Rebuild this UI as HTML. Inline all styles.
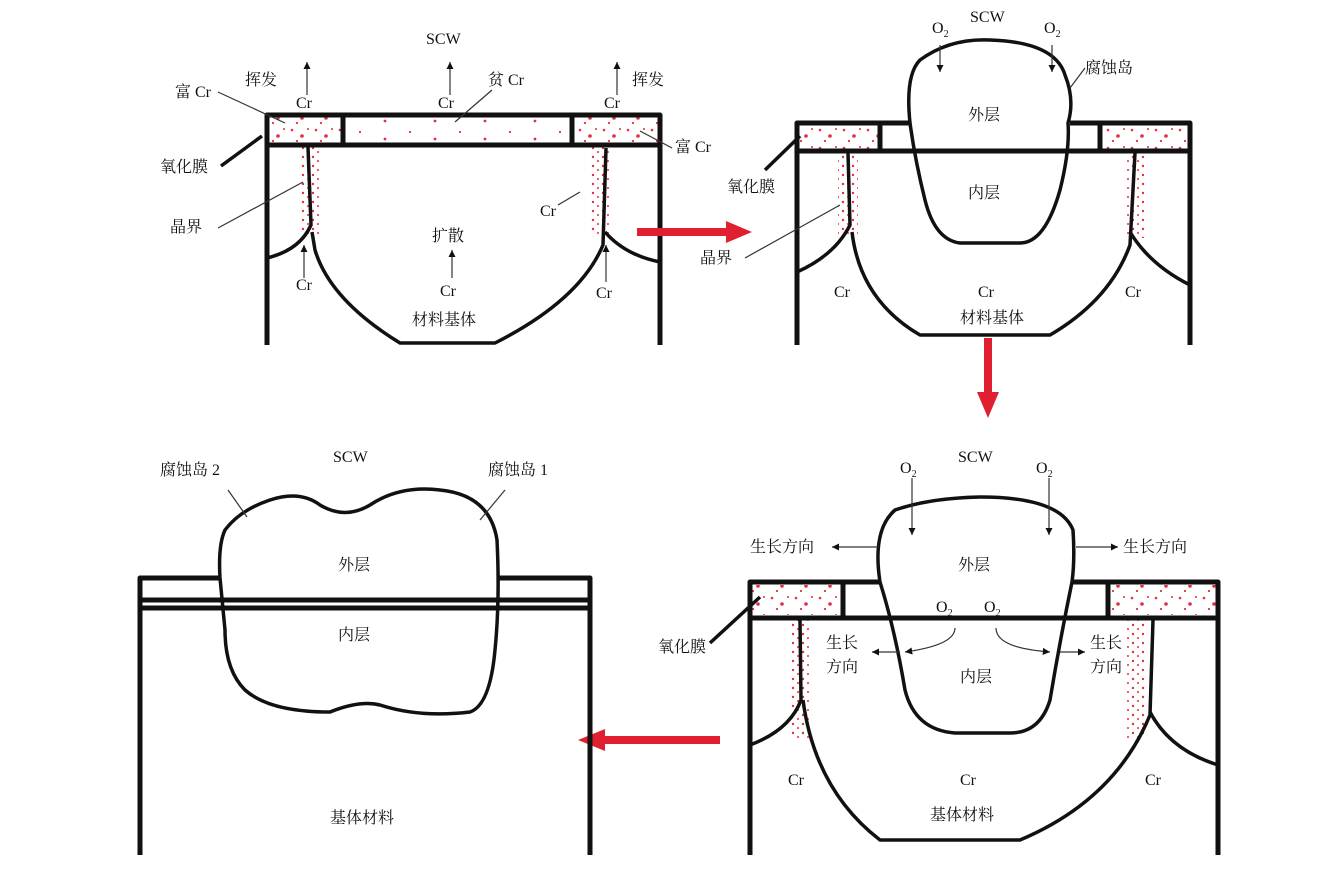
<!DOCTYPE html>
<html><head><meta charset="utf-8"><style>
body{margin:0;background:#fff}
svg{display:block}
text{font-family:"Liberation Serif","Noto Serif CJK SC","Noto Sans CJK SC",serif;font-size:16px;fill:#111}
.b{fill:none;stroke:#111;stroke-width:5;stroke-linejoin:round}
.t{fill:none;stroke:#111;stroke-width:3.5;stroke-linejoin:round}
.l{fill:none;stroke:#333;stroke-width:1.2}
.r{fill:#e02030}
</style></head><body>
<svg width="1319" height="872" viewBox="0 0 1319 872" xmlns="http://www.w3.org/2000/svg">
<defs>
<marker id="a" markerWidth="8" markerHeight="8" refX="6" refY="3" orient="auto"><path d="M0,0 L6,3 L0,6z" fill="#111"/></marker>
<pattern id="dots" width="24" height="18" patternUnits="userSpaceOnUse"><circle cx="4" cy="4" r="1.3" fill="#e03040"/><circle cx="14" cy="10" r="1.8" fill="#e03040"/><circle cx="20" cy="3" r="1" fill="#e03040"/><circle cx="9" cy="15" r="1.1" fill="#e03040"/></pattern>
<pattern id="sdots" width="50" height="18" patternUnits="userSpaceOnUse"><circle cx="10" cy="6" r="1.1" fill="#e03040"/><circle cx="35" cy="13" r="1.4" fill="#e03040"/></pattern>
<pattern id="vd" width="10" height="9" patternUnits="userSpaceOnUse"><circle cx="3" cy="4" r="1.2" fill="#e03040"/><circle cx="8" cy="8" r="1" fill="#e03040"/></pattern>
</defs>

<!-- Panel TL -->
<rect x="267" y="116" width="76" height="27" fill="url(#dots)"/>
<rect x="345" y="116" width="226" height="27" fill="url(#sdots)"/>
<rect x="574" y="116" width="84" height="27" fill="url(#dots)"/>
<rect x="300" y="147" width="20" height="90" fill="url(#vd)"/>
<rect x="590" y="147" width="20" height="90" fill="url(#vd)"/>
<path class="b" d="M267,345 V115 H660 V345 M267,145 H660 M343,115 V145 M572,115 V145"/>
<path class="t" d="M308,147 L311,225 Q300,250 267,258 M312,232 L315,250 Q330,300 400,343 L495,343 Q580,300 603,245 L606,148 M605,232 Q625,255 660,262"/>
<text x="426" y="44">SCW</text>
<path class="l" d="M307,95 V62" marker-end="url(#a)"/><path class="l" d="M450,95 V62" marker-end="url(#a)"/><path class="l" d="M617,95 V62" marker-end="url(#a)"/>
<text x="296" y="108">Cr</text><text x="438" y="108">Cr</text><text x="604" y="108">Cr</text>
<text x="245" y="85">挥发</text><text x="632" y="85">挥发</text>
<text x="488" y="85">贫 Cr</text><path class="l" d="M492,90 L455,122"/>
<text x="175" y="97">富 Cr</text><path class="l" d="M218,92 L285,123"/>
<text x="675" y="152">富 Cr</text><path class="l" d="M672,148 L640,131"/>
<text x="160" y="172">氧化膜</text><path d="M221,166 L262,136" stroke="#111" stroke-width="3.5"/>
<text x="170" y="232">晶界</text><path class="l" d="M218,228 L303,182"/>
<text x="540" y="216">Cr</text><path class="l" d="M558,205 L580,192"/>
<text x="432" y="241">扩散</text>
<path class="l" d="M452,278 V250" marker-end="url(#a)"/><text x="440" y="296">Cr</text>
<path class="l" d="M304,278 V245" marker-end="url(#a)"/><text x="296" y="290">Cr</text>
<path class="l" d="M606,282 V245" marker-end="url(#a)"/><text x="596" y="298">Cr</text>
<text x="412" y="325">材料基体</text>

<path d="M637,228 H726 V221 L752,232 L726,243 V236 H637z" class="r"/>

<!-- Panel TR -->
<rect x="800" y="125" width="78" height="24" fill="url(#dots)"/>
<rect x="1102" y="125" width="86" height="24" fill="url(#dots)"/>
<rect x="838" y="153" width="20" height="85" fill="url(#vd)"/>
<rect x="1125" y="153" width="20" height="85" fill="url(#vd)"/>
<path class="b" d="M797,345 V123 H910 M1070,123 H1190 V345 M797,151 H1190 M880,123 V151 M1100,123 V151"/>
<path class="t" d="M910,123 Q905,75 920,60 Q950,38 990,40 Q1055,42 1065,75 Q1075,100 1068,123 Q1070,150 1060,190 Q1045,243 1020,243 L960,243 Q935,240 925,200 Q915,160 910,123z"/>
<path class="t" d="M848,153 L850,225 Q835,255 797,272 M852,232 Q860,300 920,335 L1050,335 Q1110,300 1130,245 L1135,153 M1130,232 Q1150,265 1190,285"/>
<text x="970" y="22">SCW</text>
<text x="932" y="33">O<tspan font-size="10" dy="4">2</tspan></text><text x="1044" y="33">O<tspan font-size="10" dy="4">2</tspan></text>
<path class="l" d="M940,45 V72" marker-end="url(#a)"/><path class="l" d="M1052,45 V72" marker-end="url(#a)"/>
<text x="1085" y="73">腐蚀岛</text><path class="l" d="M1085,68 L1070,88"/>
<text x="968" y="120">外层</text><text x="968" y="198">内层</text>
<text x="727" y="192">氧化膜</text><path d="M765,170 L800,136" stroke="#111" stroke-width="3.5"/>
<text x="700" y="263">晶界</text><path class="l" d="M745,258 L840,205"/>
<text x="834" y="297">Cr</text><text x="978" y="297">Cr</text><text x="1125" y="297">Cr</text>
<text x="960" y="323">材料基体</text>

<path d="M984,338 V392 H977 L988,418 L999,392 H992 V338z" class="r"/>

<!-- Panel BR -->
<rect x="752" y="585" width="88" height="30" fill="url(#dots)"/>
<rect x="1112" y="585" width="104" height="30" fill="url(#dots)"/>
<rect x="790" y="620" width="22" height="120" fill="url(#vd)"/>
<rect x="1125" y="620" width="22" height="120" fill="url(#vd)"/>
<path class="b" d="M750,855 V582 H880 M1072,582 H1218 V855 M750,618 H1218 M843,582 V618 M1108,582 V618"/>
<path class="t" d="M880,582 Q872,530 895,510 Q930,498 980,497 Q1060,497 1073,530 Q1075,560 1072,582 Q1060,640 1050,700 Q1040,733 1010,733 L955,733 Q915,730 905,690 Q895,630 880,582z"/>
<path class="t" d="M800,620 L801,700 Q790,730 750,745 M803,700 Q815,790 880,840 L1020,840 Q1115,800 1150,715 L1153,620 M1150,712 Q1170,750 1218,765"/>
<text x="958" y="462">SCW</text>
<text x="900" y="473">O<tspan font-size="10" dy="4">2</tspan></text><text x="1036" y="473">O<tspan font-size="10" dy="4">2</tspan></text>
<path class="l" d="M912,478 V535" marker-end="url(#a)"/><path class="l" d="M1049,478 V535" marker-end="url(#a)"/>
<text x="750" y="552">生长方向</text><path class="l" d="M878,547 H832" marker-end="url(#a)"/>
<text x="1123" y="552">生长方向</text><path class="l" d="M1076,547 H1118" marker-end="url(#a)"/>
<text x="958" y="570">外层</text>
<text x="936" y="612">O<tspan font-size="10" dy="4">2</tspan></text><text x="984" y="612">O<tspan font-size="10" dy="4">2</tspan></text>
<path class="l" d="M955,628 Q955,645 905,652" marker-end="url(#a)"/>
<path class="l" d="M996,628 Q996,648 1050,652" marker-end="url(#a)"/>
<path class="l" d="M900,652 H872" marker-end="url(#a)"/><path class="l" d="M1060,652 H1085" marker-end="url(#a)"/>
<text x="826" y="648">生长</text><text x="826" y="672">方向</text>
<text x="1090" y="648">生长</text><text x="1090" y="672">方向</text>
<text x="960" y="682">内层</text>
<text x="658" y="652">氧化膜</text><path d="M710,643 L760,597" stroke="#111" stroke-width="3.5"/>
<text x="788" y="785">Cr</text><text x="960" y="785">Cr</text><text x="1145" y="785">Cr</text>
<text x="930" y="820">基体材料</text>

<path d="M720,736 H605 V729 L578,740 L605,751 V744 H720z" class="r"/>

<!-- Panel BL -->
<path class="b" d="M140,855 V578 H220 M497,578 H590 V855 M140,600 H590 M140,608 H590"/>
<path class="t" d="M220,578 Q218,545 225,530 Q240,510 270,500 Q300,490 320,505 Q345,520 370,505 Q400,485 440,490 Q490,495 497,540 Q500,600 495,650 Q490,705 470,712 Q420,718 380,705 Q360,700 330,712 Q270,712 245,690 Q225,670 225,630 Q222,600 220,578z"/>
<text x="333" y="462">SCW</text>
<text x="160" y="475">腐蚀岛 2</text><path class="l" d="M228,490 L247,517"/>
<text x="488" y="475">腐蚀岛 1</text><path class="l" d="M505,490 L480,520"/>
<text x="338" y="570">外层</text><text x="338" y="640">内层</text>
<text x="330" y="823">基体材料</text>
</svg>
</body></html>
